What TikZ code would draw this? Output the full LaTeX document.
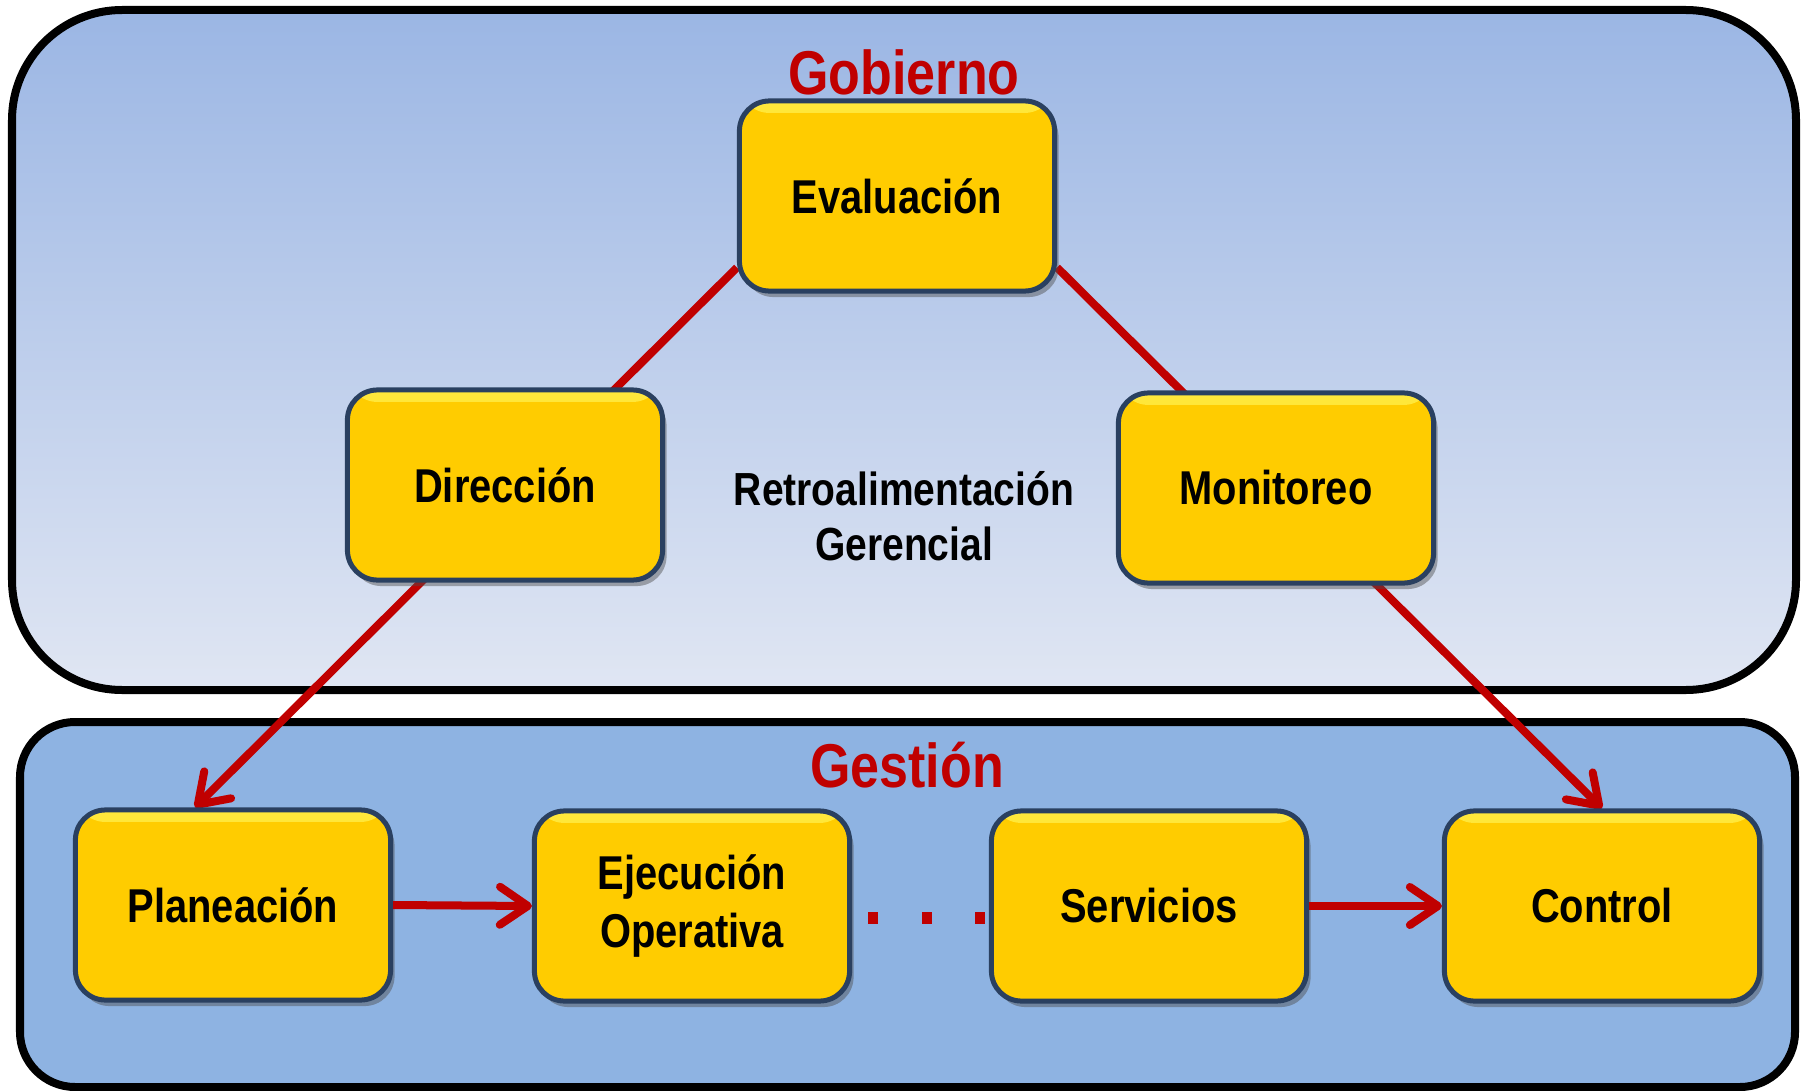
\documentclass[tikz,border=0pt]{standalone}
\usepackage{fontspec}
\setmainfont[FakeStretch=0.84]{Liberation Sans}
\usetikzlibrary{arrows.meta,calc,shadows}

\definecolor{rojo}{RGB}{192,0,0}
\definecolor{oro}{RGB}{255,204,0}
\definecolor{luz}{RGB}{255,232,60}
\definecolor{borde}{RGB}{42,64,96}
\definecolor{cielo}{RGB}{155,182,228}
\definecolor{niebla}{RGB}{224,230,243}
\definecolor{azul}{RGB}{142,179,226}

\pgfdeclarelayer{fondo}
\pgfdeclarelayer{lineas}
\pgfsetlayers{fondo,lineas,main}

\tikzset{
  caja/.style={draw=borde, line width=0.05cm, fill=oro, rounded corners=0.3cm,
    minimum width=3.15cm, minimum height=1.9cm, align=center,
    font=\fontsize{13.5}{16.5}\selectfont\bfseries,
    drop shadow={shadow xshift=0.04cm, shadow yshift=-0.06cm, opacity=0.45, fill=black!70},
    path picture={\shade[top color=luz, bottom color=oro]
      (path picture bounding box.north west) rectangle ([yshift=-0.12cm]path picture bounding box.north east);}},
  titulo/.style={text=rojo, font=\fontsize{17.6}{20}\selectfont\bfseries},
  flecha/.style={draw=rojo, line width=0.08cm, -{Straight Barb[length=0.28cm,width=0.38cm,round]}},
}

\begin{document}
\begin{tikzpicture}[x=0.01cm, y=-0.01cm]
  \useasboundingbox (0,0) rectangle (1803,1091);
  \begin{pgfonlayer}{fondo}
    \draw[line width=0.08cm, rounded corners=1.1cm, top color=cielo, bottom color=niebla]
      (12,10) rectangle (1796,690);
    \draw[line width=0.08cm, rounded corners=0.55cm, fill=azul]
      (20,722) rectangle (1795,1087);
  \end{pgfonlayer}

  % gobierno
  \node[caja] (eval) at (897,196) {Evaluación};
  \node[caja] (dir) at (505,485) {Dirección};
  \node[caja] (mon) at (1276,488) {Monitoreo};
  \node[titulo, anchor=base] (gob) at (904,95) {Gobierno};
  \node[font=\fontsize{13.2}{15.8}\selectfont\bfseries, align=center] (retro) at (904,516)
    {Retroalimentación\\Gerencial};

  % gestion
  \node[caja] (plan) at (233,905) {Planeación};
  \node[caja] (ejec) at (692,906) {\raisebox{-0.12cm}{Ejecución}\\\raisebox{-0.12cm}{Operativa}};
  \node[caja] (serv) at (1149,906) {Servicios};
  \node[caja] (ctrl) at (1602,906) {Control};
  \node[titulo, anchor=base] (ges) at (907,787) {Gestión};

  \begin{pgfonlayer}{lineas}
    \path ($(eval.south west)+(0,-26)$) edge[flecha] ($(plan.north)+(-38,0)$)
          ($(eval.south east)+(0,-26)$) edge[flecha] (ctrl.north);
  \end{pgfonlayer}
  \path (plan.east) edge[flecha] (ejec.west)
        (serv.east) edge[flecha] (ctrl.west);
  \foreach \x in {873,927,980}
    \fill[rojo] (\x-5,912) rectangle (\x+5,924);
\end{tikzpicture}
\end{document}
